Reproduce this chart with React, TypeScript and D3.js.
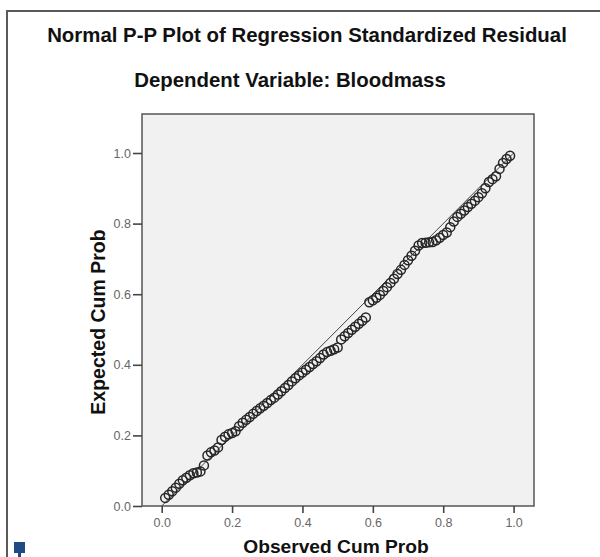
import { useEffect, useRef } from "react";
import * as d3 from "d3";

// observed cumulative probability (x) and expected cumulative probability (y)
const observed = [
  0.01, 0.02, 0.03, 0.04, 0.05, 0.06, 0.07, 0.08, 0.09, 0.10,
  0.11, 0.12, 0.13, 0.14, 0.15, 0.16, 0.17, 0.18, 0.19, 0.20,
  0.21, 0.22, 0.23, 0.24, 0.25, 0.26, 0.27, 0.28, 0.29, 0.30,
  0.31, 0.32, 0.33, 0.34, 0.35, 0.36, 0.37, 0.38, 0.39, 0.40,
  0.41, 0.42, 0.43, 0.44, 0.45, 0.46, 0.47, 0.48, 0.49, 0.50,
  0.51, 0.52, 0.53, 0.54, 0.55, 0.56, 0.57, 0.58, 0.59, 0.60,
  0.61, 0.62, 0.63, 0.64, 0.65, 0.66, 0.67, 0.68, 0.69, 0.70,
  0.71, 0.72, 0.73, 0.74, 0.75, 0.76, 0.77, 0.78, 0.79, 0.80,
  0.81, 0.82, 0.83, 0.84, 0.85, 0.86, 0.87, 0.88, 0.89, 0.90,
  0.91, 0.92, 0.93, 0.94, 0.95, 0.96, 0.97, 0.98, 0.99,
];

const expected = [
  0.023, 0.032, 0.042, 0.052, 0.063, 0.073, 0.080, 0.087, 0.093, 0.095,
  0.098, 0.115, 0.143, 0.152, 0.157, 0.166, 0.187, 0.196, 0.203, 0.207,
  0.212, 0.226, 0.236, 0.244, 0.252, 0.261, 0.269, 0.277, 0.284, 0.292,
  0.300, 0.307, 0.316, 0.325, 0.334, 0.343, 0.353, 0.362, 0.370, 0.378,
  0.386, 0.394, 0.402, 0.410, 0.419, 0.429, 0.436, 0.440, 0.444, 0.449,
  0.472, 0.481, 0.490, 0.499, 0.508, 0.516, 0.525, 0.534, 0.577, 0.583,
  0.590, 0.598, 0.609, 0.620, 0.632, 0.644, 0.657, 0.669, 0.683, 0.696,
  0.709, 0.723, 0.738, 0.745, 0.746, 0.747, 0.748, 0.753, 0.760, 0.768,
  0.775, 0.790, 0.806, 0.819, 0.828, 0.837, 0.847, 0.856, 0.865, 0.875,
  0.886, 0.900, 0.918, 0.926, 0.934, 0.955, 0.972, 0.983, 0.992,
];

const tickValues = [0.0, 0.2, 0.4, 0.6, 0.8, 1.0];

const title = "Normal P-P Plot of Regression Standardized Residual";
const subtitle = "Dependent Variable: Bloodmass";
const xTitle = "Observed Cum Prob";
const yTitle = "Expected Cum Prob";

const font = "'Liberation Sans', Arial, sans-serif";

const App = () => {
  const svgRef = useRef<SVGSVGElement>(null);
  const width = 600;
  const height = 557;

  useEffect(() => {
    const svg = d3.select(svgRef.current);
    svg.selectAll("*").remove();

    const plot = { left: 142, top: 114, right: 534, bottom: 506 };

    const x = d3.scaleLinear().domain([-0.056, 1.058]).range([plot.left, plot.right]);
    const y = d3.scaleLinear().domain([0, 1.1105]).range([plot.bottom, plot.top]);

    svg.append("rect").attr("width", width).attr("height", height).attr("fill", "#fff");

    // outer frame (top + left edges visible)
    svg.append("path")
      .attr("d", `M7,${height} L7,11 L${width},11`)
      .attr("fill", "none")
      .attr("stroke", "#5a5a5a")
      .attr("stroke-width", 2);

    // titles
    svg.append("text")
      .attr("x", 307).attr("y", 42)
      .attr("text-anchor", "middle")
      .attr("font-family", font).attr("font-weight", "bold").attr("font-size", 20.4)
      .attr("fill", "#111")
      .text(title);

    svg.append("text")
      .attr("x", 290).attr("y", 87)
      .attr("text-anchor", "middle")
      .attr("font-family", font).attr("font-weight", "bold").attr("font-size", 20.4)
      .attr("fill", "#111")
      .text(subtitle);

    // plot background
    svg.append("rect")
      .attr("x", plot.left).attr("y", plot.top)
      .attr("width", plot.right - plot.left).attr("height", plot.bottom - plot.top)
      .attr("fill", "#f1f1f1")
      .attr("stroke", "#555")
      .attr("stroke-width", 1.5);

    // axes
    const xAxis = svg.append("g")
      .attr("transform", `translate(0, ${plot.bottom})`)
      .call(d3.axisBottom(x).tickValues(tickValues).tickFormat(d3.format(".1f")).tickSize(7).tickPadding(5));
    const yAxis = svg.append("g")
      .attr("transform", `translate(${plot.left}, 0)`)
      .call(d3.axisLeft(y).tickValues(tickValues).tickFormat(d3.format(".1f")).tickSize(9).tickPadding(2));

    [xAxis, yAxis].forEach(ax => {
      ax.select(".domain").remove();
      ax.selectAll(".tick line").attr("stroke", "#444").attr("stroke-width", 1.6);
      ax.selectAll(".tick text")
        .attr("fill", "#666")
        .attr("font-family", font)
        .attr("font-size", 12.5);
    });

    // reference line
    svg.append("line")
      .attr("x1", x(0)).attr("y1", y(0))
      .attr("x2", x(1)).attr("y2", y(1))
      .attr("stroke", "#444")
      .attr("stroke-width", 1);

    // points
    svg.append("g")
      .selectAll("circle")
      .data(observed.map((o, i) => ({ o, e: expected[i] })))
      .enter()
      .append("circle")
      .attr("cx", d => x(d.o))
      .attr("cy", d => y(d.e))
      .attr("r", 4.5)
      .attr("fill", "none")
      .attr("stroke", "#262626")
      .attr("stroke-width", 1.5);

    // axis titles
    svg.append("text")
      .attr("x", 336).attr("y", 553)
      .attr("text-anchor", "middle")
      .attr("font-family", font).attr("font-weight", "bold").attr("font-size", 19.2)
      .attr("fill", "#111")
      .text(xTitle);

    svg.append("text")
      .attr("transform", `translate(105, 322) rotate(-90)`)
      .attr("text-anchor", "middle")
      .attr("font-family", font).attr("font-weight", "bold").attr("font-size", 19.5)
      .attr("fill", "#111")
      .text(yTitle);

    // small blue marker at bottom-left
    svg.append("rect")
      .attr("x", 14).attr("y", 542).attr("width", 11).attr("height", 11)
      .attr("fill", "#1f4a86");
    svg.append("rect")
      .attr("x", 18).attr("y", 552).attr("width", 3).attr("height", 5)
      .attr("fill", "#1f4a86");
  }, []);

  return (
    <div style={{ position: "absolute", left: 0, top: 0 }}>
      <svg ref={svgRef} width={width} height={height} style={{ display: "block" }} />
    </div>
  );
};

export default App;
